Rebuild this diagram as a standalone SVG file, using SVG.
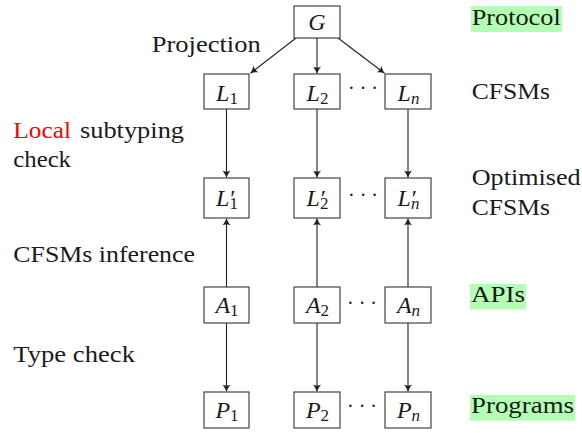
<svg xmlns="http://www.w3.org/2000/svg" width="582" height="433" viewBox="0 0 582 433" font-family="'Liberation Serif', 'DejaVu Serif', serif">
  <style>
    .t { font-size: 24px; fill: #1a1a1a; }
    .m { font-size: 24px; fill: #1a1a1a; text-anchor: middle; }
    .i { font-style: italic; }
    .sub { font-size: 17px; }
    .box { fill: #ffffff; stroke: #333333; stroke-width: 1.1; }
    .hl { fill: #b3ffb3; }
    .edge { stroke: #222222; stroke-width: 1.1; fill: none; marker-end: url(#tip); }
    .dots { font-size: 20px; fill: #1a1a1a; text-anchor: middle; }
    .red { fill: #ff0000; }
  </style>
  <defs>
    <marker id="tip" markerUnits="userSpaceOnUse" markerWidth="12" markerHeight="12" viewBox="-8 -6 10 12" refX="0" refY="0" orient="auto">
      <path d="M0,0 C-2,-0.8 -4.5,-2.2 -7,-4.2 C-5.6,-2 -5.6,2 -7,4.2 C-4.5,2.2 -2,0.8 0,0 Z" fill="#222222"/>
    </marker>
  </defs>

  <!-- connectors -->
  <g id="connectors">
    <line class="edge" x1="296" y1="38" x2="250.5" y2="73.2"/>
    <line class="edge" x1="317" y1="38" x2="317" y2="73.5"/>
    <line class="edge" x1="338" y1="38" x2="384.5" y2="73.2"/>

    <line class="edge" x1="226.5" y1="109" x2="226.5" y2="177.5"/>
    <line class="edge" x1="317" y1="109" x2="317" y2="177.5"/>
    <line class="edge" x1="408" y1="109" x2="408" y2="177.5"/>

    <line class="edge" x1="226.5" y1="287" x2="226.5" y2="218.5"/>
    <line class="edge" x1="317" y1="287" x2="317" y2="218.5"/>
    <line class="edge" x1="408" y1="287" x2="408" y2="218.5"/>

    <line class="edge" x1="226.5" y1="323" x2="226.5" y2="391.5"/>
    <line class="edge" x1="317" y1="323" x2="317" y2="391.5"/>
    <line class="edge" x1="408" y1="323" x2="408" y2="391.5"/>
  </g>

  <!-- global protocol -->
  <g id="node-G">
    <rect class="box" x="294" y="6" width="46" height="32"/>
    <text class="m i" x="317" y="30" font-family="Liberation Serif">G</text>
  </g>

  <!-- local types -->
  <g id="node-L1">
    <rect class="box" x="204" y="74" width="45" height="35"/>
    <text class="m" x="227" y="100.5"><tspan class="i">L</tspan><tspan class="sub" dy="3">1</tspan></text>
  </g>
  <g id="node-L2">
    <rect class="box" x="294" y="74" width="46" height="35"/>
    <text class="m" x="317.5" y="100.5"><tspan class="i">L</tspan><tspan class="sub" dy="3">2</tspan></text>
  </g>
  <g id="node-Ln">
    <rect class="box" x="385" y="74" width="46" height="35"/>
    <text class="m" x="408.5" y="100.5"><tspan class="i">L</tspan><tspan class="sub i" dy="3">n</tspan></text>
  </g>

  <!-- optimised local types: primed name with subscript set under the prime -->
  <g id="node-L1p">
    <rect class="box" x="204" y="178" width="45" height="40"/>
    <text class="m" x="227" y="206"><tspan class="i">L</tspan><tspan dx="1">′</tspan><tspan class="sub" dx="-6" dy="3">1</tspan></text>
  </g>
  <g id="node-L2p">
    <rect class="box" x="294" y="178" width="46" height="40"/>
    <text class="m" x="317.5" y="206"><tspan class="i">L</tspan><tspan dx="1">′</tspan><tspan class="sub" dx="-6" dy="3">2</tspan></text>
  </g>
  <g id="node-Lnp">
    <rect class="box" x="385" y="178" width="46" height="40"/>
    <text class="m" x="408.5" y="206"><tspan class="i">L</tspan><tspan dx="1">′</tspan><tspan class="sub i" dx="-6" dy="3">n</tspan></text>
  </g>

  <!-- APIs -->
  <g id="node-A1">
    <rect class="box" x="204" y="287" width="45" height="36"/>
    <text class="m" x="227" y="313"><tspan class="i">A</tspan><tspan class="sub" dy="3">1</tspan></text>
  </g>
  <g id="node-A2">
    <rect class="box" x="294" y="287" width="46" height="36"/>
    <text class="m" x="317.5" y="313"><tspan class="i">A</tspan><tspan class="sub" dy="3">2</tspan></text>
  </g>
  <g id="node-An">
    <rect class="box" x="385" y="287" width="46" height="36"/>
    <text class="m" x="408.5" y="313"><tspan class="i">A</tspan><tspan class="sub i" dy="3">n</tspan></text>
  </g>

  <!-- programs -->
  <g id="node-P1">
    <rect class="box" x="204" y="392" width="45" height="36"/>
    <text class="m" x="227" y="418"><tspan class="i">P</tspan><tspan class="sub" dy="3">1</tspan></text>
  </g>
  <g id="node-P2">
    <rect class="box" x="294" y="392" width="46" height="36"/>
    <text class="m" x="317.5" y="418"><tspan class="i">P</tspan><tspan class="sub" dy="3">2</tspan></text>
  </g>
  <g id="node-Pn">
    <rect class="box" x="385" y="392" width="46" height="36"/>
    <text class="m" x="408.5" y="418"><tspan class="i">P</tspan><tspan class="sub i" dy="3">n</tspan></text>
  </g>

  <!-- ellipses between columns -->
  <g id="ellipses">
    <text class="dots" x="363" y="95">· · ·</text>
    <text class="dots" x="363" y="201.5">· · ·</text>
    <text class="dots" x="362" y="310">· · ·</text>
    <text class="dots" x="362" y="413">· · ·</text>
  </g>

  <!-- step labels -->
  <g id="steps">
    <text class="t" x="151.7" y="51.7" textLength="109" lengthAdjust="spacingAndGlyphs">Projection</text>
    <text class="t red" x="13.3" y="137.7" textLength="57.7" lengthAdjust="spacingAndGlyphs">Local</text>
    <text class="t" x="80" y="137.7" textLength="104" lengthAdjust="spacingAndGlyphs">subtyping</text>
    <text class="t" x="13.3" y="166.7" textLength="57.7" lengthAdjust="spacingAndGlyphs">check</text>
    <text class="t" x="13.3" y="261.7" textLength="181.7" lengthAdjust="spacingAndGlyphs">CFSMs inference</text>
    <text class="t" x="13.3" y="361.7" textLength="121.7" lengthAdjust="spacingAndGlyphs">Type check</text>
  </g>

  <!-- artefact labels -->
  <g id="artefacts">
    <rect class="hl" x="471" y="6" width="91" height="26"/>
    <text class="t" x="471.7" y="24.5" textLength="89" lengthAdjust="spacingAndGlyphs">Protocol</text>
    <text class="t" x="471.7" y="99.3" textLength="78.3" lengthAdjust="spacingAndGlyphs">CFSMs</text>
    <text class="t" x="471.7" y="185" textLength="109" lengthAdjust="spacingAndGlyphs">Optimised</text>
    <text class="t" x="471.7" y="215" textLength="78.3" lengthAdjust="spacingAndGlyphs">CFSMs</text>
    <rect class="hl" x="470" y="284" width="56" height="25.5"/>
    <text class="t" x="471" y="302" textLength="54" lengthAdjust="spacingAndGlyphs">APIs</text>
    <rect class="hl" x="470" y="395" width="105" height="25.7"/>
    <text class="t" x="471" y="413" textLength="103" lengthAdjust="spacingAndGlyphs">Programs</text>
  </g>
</svg>
